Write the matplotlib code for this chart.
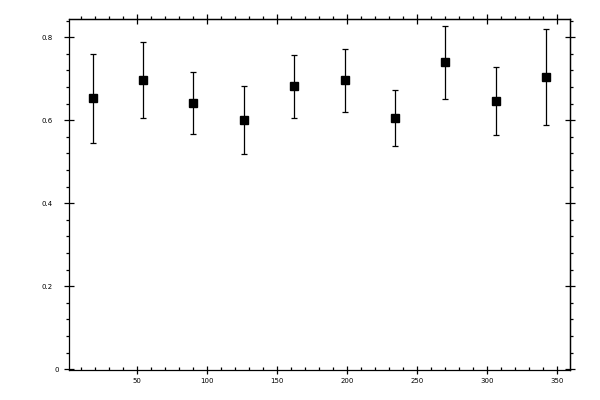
import matplotlib
matplotlib.use('Agg')
import matplotlib.pyplot as plt
import matplotlib.transforms as mtransforms
from matplotlib.ticker import MultipleLocator, FixedLocator, NullFormatter

# bin centres (degrees), mean values and error half-widths
angles = [18, 54, 90, 126, 162, 198, 234, 270, 306, 342]
values = [0.653, 0.696, 0.641, 0.601, 0.682, 0.696, 0.605, 0.740, 0.646, 0.704]
errors = [0.107, 0.092, 0.074, 0.082, 0.076, 0.076, 0.068, 0.088, 0.082, 0.116]

xticks = [50, 100, 150, 200, 250, 300, 350]
yticks = [0, 0.2, 0.4, 0.6, 0.8]
ytick_labels = ['0', '0.2', '0.4', '0.6', '0.8']

fig = plt.figure(figsize=(6, 4), dpi=100)
ax = fig.add_axes([0.1155, 0.0743, 0.8345, 0.8775])

ax.errorbar(angles, values, yerr=errors, fmt='s', color='black',
            markersize=6, elinewidth=0.9, capsize=2, capthick=0.9)

ax.set_xlim(1.4, 359)
ax.set_ylim(-0.0025, 0.843)

for s in ax.spines.values():
    s.set_linewidth(0.9)

# bottom and left axes
ax.xaxis.set_major_locator(FixedLocator(xticks))
ax.xaxis.set_minor_locator(MultipleLocator(10))
ax.set_xticklabels([str(t) for t in xticks])
ax.yaxis.set_major_locator(FixedLocator(yticks))
ax.yaxis.set_minor_locator(MultipleLocator(0.04))
ax.set_yticklabels(ytick_labels)

ax.tick_params(axis='x', which='major', direction='inout', length=5.5, width=0.9,
               labelsize=5, pad=3)
ax.tick_params(axis='x', which='minor', direction='in', length=2.4, width=0.9)
ax.tick_params(axis='y', which='major', direction='inout', length=6.5, width=0.9,
               labelsize=5, pad=9)
ax.tick_params(axis='y', which='minor', direction='out', length=2.4, width=0.9)

for lab in ax.get_xticklabels() + ax.get_yticklabels():
    lab.set_family('DejaVu Sans')

# the "0" label sits closer to the axis
zero_tick = ax.yaxis.get_major_ticks()[0]
zero_tick.label1.set_transform(zero_tick.label1.get_transform() +
                               mtransforms.ScaledTranslation(7 / 100, 0, fig.dpi_scale_trans))

# top and right axes, no labels
top = ax.secondary_xaxis('top')
top.xaxis.set_major_locator(FixedLocator(xticks))
top.xaxis.set_minor_locator(MultipleLocator(10))
top.xaxis.set_major_formatter(NullFormatter())
top.tick_params(which='major', direction='inout', length=6.5, width=0.9)
top.tick_params(which='minor', direction='out', length=2.4, width=0.9)
top.spines['top'].set_linewidth(0.9)

right = ax.secondary_yaxis('right')
right.yaxis.set_major_locator(FixedLocator(yticks))
right.yaxis.set_minor_locator(MultipleLocator(0.04))
right.yaxis.set_major_formatter(NullFormatter())
right.tick_params(which='major', direction='inout', length=6.5, width=0.9)
right.tick_params(which='minor', direction='out', length=2.4, width=0.9)
right.spines['right'].set_linewidth(0.9)

fig.savefig('out.png', dpi=100)
